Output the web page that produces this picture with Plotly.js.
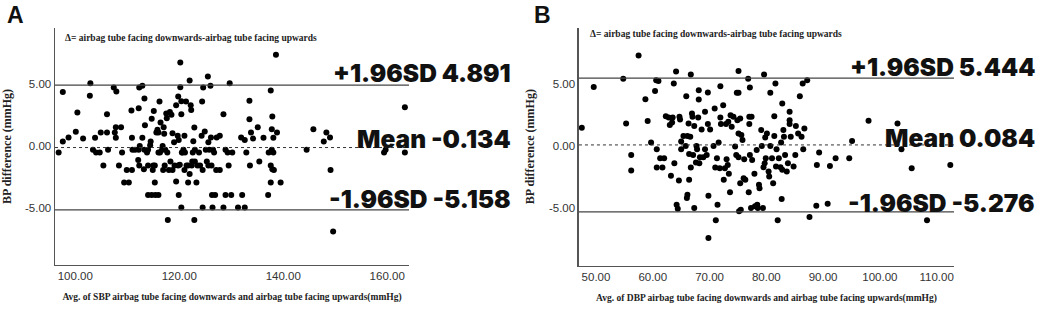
<!DOCTYPE html>
<html>
<head>
<meta charset="utf-8">
<script src="https://cdn.plot.ly/plotly-3.0.1.min.js"></script>
<style>html,body{margin:0;padding:0;background:#fff;}#chart{width:1040px;height:309px;}</style>
</head>
<body>
<div id="chart"></div>
<script>
// Panel A: SBP
const sbpAvg = [96.8,97.6,97.6,98.7,100.1,100.4,101.5,102.9,102.8,103.4,103.8,104.0,104.7,104.9,105.4,106.1,106.1,106.3,107.4,107.6,107.8,107.9,107.8,108.4,108.8,109.0,109.4,109.9,110.3,110.8,110.9,110.9,111.0,112.2,112.3,112.1,112.3,112.2,112.4,112.9,113.3,113.4,113.3,114.0,112.9,113.2,114.0,114.4,114.7,114.5,114.7,114.9,115.1,115.4,115.3,115.6,115.8,116.0,116.0,116.2,116.4,116.7,116.8,116.9,117.1,117.2,117.6,117.7,117.8,118.2,118.3,118.5,118.7,118.7,119.1,119.4,119.4,119.7,119.8,119.9,119.9,120.1,120.2,120.2,120.4,120.4,120.4,120.6,121.0,121.3,121.4,121.7,122.0,122.0,122.2,122.3,122.6,122.7,122.9,122.9,123.0,123.3,123.5,123.8,124.3,124.4,124.5,124.6,124.9,125.1,125.3,125.5,125.6,125.8,126.0,126.1,126.3,126.4,126.7,126.9,127.1,127.2,127.8,127.8,128.5,128.5,128.9,128.9,129.3,129.5,129.7,130.0,130.2,131.3,131.9,132.1,132.6,132.6,132.9,133.5,133.5,133.6,133.8,134.2,135.1,135.4,136.2,137.1,137.2,137.6,137.6,137.6,137.8,137.8,137.9,137.9,138.1,138.1,138.2,138.6,138.8,139.5,144.5,145.8,147.8,148.3,149.0,149.1,149.6,159.4,159.7,163.4,163.4,
116.3,117.3,120.5,121.1,115.3,119.8,121.7,122.4,124.0,125.6,126.2,120.8,123.0,126.5,117.0,116.0,117.5,119.0,114.0,113.8,111.5,115.0,118.0,121.0,124.5,122.5];
const sbpDiff = [-0.54,4.35,0.35,0.67,1.13,2.69,0.59,5.05,4.03,-0.32,0.65,-0.54,-0.54,1.08,-1.59,2.55,1.08,-0.32,4.70,1.08,1.50,4.38,0.65,-1.59,1.50,-0.54,-2.96,-1.94,-2.96,2.85,-1.94,0.65,-0.32,3.04,4.70,-1.13,-1.59,-0.32,0.00,4.84,3.82,1.67,-0.32,-3.95,0.65,-1.88,-1.59,0.05,-3.95,0.35,2.18,-1.94,2.82,-3.95,-2.96,1.08,1.29,-3.95,-0.54,3.58,1.88,-0.32,0.00,-1.94,0.97,-1.59,2.23,-0.54,-5.97,2.74,-1.26,2.50,1.02,-1.94,-1.59,3.28,-2.88,0.81,3.98,-3.95,0.48,-1.53,6.72,4.73,3.60,2.55,-4.97,-0.54,0.81,3.58,-1.59,-2.96,5.27,-2.26,3.28,2.90,-0.54,0.38,-5.97,1.48,-1.26,-2.96,-1.59,-0.54,0.81,3.58,-4.97,4.70,1.16,-0.32,-1.26,5.59,0.30,-0.32,4.84,0.67,-3.95,-4.97,-0.54,-3.95,-1.94,0.67,0.81,-1.94,2.55,-4.97,-0.32,-3.95,-0.54,-1.59,5.05,-3.95,-0.54,-4.97,0.67,-3.95,-4.97,0.48,-0.54,2.15,3.63,-1.59,1.08,0.59,1.50,-1.26,0.65,-3.95,-0.54,4.46,-2.96,-1.59,-0.32,1.34,2.37,-1.88,-0.54,0.65,-1.94,7.34,1.08,-2.96,-0.32,1.34,0.35,1.08,0.67,-1.94,-6.90,-0.54,-0.32,3.12,-0.54,
-0.54,-0.32,-0.54,-0.54,-1.59,-1.59,-1.59,-1.59,-1.59,-1.59,-1.59,-0.32,-0.32,-0.32,1.50,1.08,2.60,0.30,-0.32,-0.54,-0.32,-1.59,-1.94,-1.94,-1.94,-1.26];
const sbpLimits = {upper: 4.891, mean: -0.134, lower: -5.158};

// Panel B: DBP
const dbpAvg = [47.5,49.6,54.8,55.3,56.2,56.2,57.5,58.7,59.1,59.7,60.4,60.7,60.6,61.0,60.7,61.3,61.7,62.0,62.3,62.8,63.0,63.2,63.4,63.5,63.7,63.8,64.1,64.2,64.4,64.6,64.7,64.8,65.0,65.0,65.4,65.8,65.9,66.0,66.1,66.1,66.3,66.4,66.4,66.6,66.7,66.7,66.9,67.0,67.1,67.3,67.3,67.6,67.7,67.8,68.0,68.1,68.1,68.2,68.3,68.6,68.9,69.2,69.2,69.5,69.7,69.7,69.8,69.8,70.1,70.7,70.9,71.0,71.1,71.3,71.4,71.6,71.8,71.9,71.9,72.0,72.4,72.5,72.7,72.9,73.0,73.2,73.3,73.4,73.6,73.7,73.9,74.2,74.5,74.7,74.8,74.9,75.1,75.1,75.1,75.1,75.2,75.4,75.4,75.5,75.6,75.8,76.0,76.1,76.3,76.8,76.9,77.0,77.0,77.1,77.1,77.3,77.4,77.5,77.9,78.0,78.3,78.4,78.5,78.7,78.8,79.1,79.2,79.4,79.5,79.6,79.7,79.8,79.9,80.1,80.4,80.5,80.7,80.7,81.0,81.2,81.4,81.4,81.6,81.7,81.8,82.0,82.2,82.5,82.6,82.7,82.8,82.8,83.0,83.1,83.3,83.6,83.8,84.1,84.1,84.1,84.3,84.8,85.1,85.2,85.6,85.9,86.2,86.4,86.5,86.7,87.2,87.6,88.8,88.9,89.3,90.8,91.2,92.2,94.6,95.1,98.0,103.1,103.8,105.6,108.3,112.4];
const dbpDiff = [1.46,4.73,5.40,1.81,-0.72,-1.97,7.26,3.75,2.00,0.27,4.41,-0.27,5.27,5.21,-1.73,-0.98,-1.73,-0.98,2.39,2.29,1.68,-2.39,1.89,2.29,5.00,-1.38,5.98,-4.71,-5.03,-2.77,2.34,2.13,0.35,-0.27,0.80,0.00,3.99,-4.18,-3.91,0.80,1.81,-0.64,-2.71,0.74,5.74,-1.73,2.61,2.34,-0.72,1.60,-4.97,-1.33,0.00,-0.27,2.29,3.72,4.47,-1.38,-0.90,1.33,-0.90,2.74,-0.27,-0.72,4.28,1.76,-3.99,-7.37,1.33,0.00,3.00,-1.73,-5.96,-0.98,-4.71,0.27,-1.78,2.29,4.79,1.76,3.27,-2.71,-1.78,1.76,-1.06,-1.52,1.94,-2.23,-3.72,2.47,1.54,2.34,-0.05,-0.72,4.26,2.07,6.01,4.26,1.01,-0.90,-5.24,-2.98,2.21,-5.11,0.88,0.48,-2.58,-1.06,-2.71,5.40,-3.72,1.76,2.34,4.68,-0.72,-4.97,2.34,-1.12,-2.23,-4.84,-0.32,-4.71,-4.97,-3.11,-3.38,1.28,0.00,-4.97,-1.70,5.74,-1.38,0.69,-0.98,1.01,-2.05,-2.45,4.26,0.00,-0.98,-2.98,2.39,0.80,5.00,-1.65,-0.27,-5.96,-0.98,-1.70,0.27,-4.26,3.40,-1.91,1.28,0.74,-0.72,-2.05,-1.38,2.74,1.76,2.07,0.74,-1.65,-0.72,1.60,1.01,3.99,0.74,5.00,-0.27,1.41,5.27,-5.69,-4.79,-1.52,-0.53,-4.63,-1.60,-0.98,-0.98,0.40,2.02,1.81,-0.27,-1.78,-5.96,-1.52];
const dbpLimits = {upper: 5.444, mean: 0.084, lower: -5.276};

const panelLabels = ["A", "B"];
const noteText = "Δ= airbag tube facing downwards-airbag tube facing upwards";
const xTitles = ["Avg. of SBP airbag tube facing downwards and airbag tube facing upwards(mmHg)",
                 "Avg. of DBP airbag tube facing downwards and airbag tube facing upwards(mmHg)"];
const yTitle = "BP difference (mmHg)";
const sbpTicks = [100, 120, 140, 160];
const dbpTicks = [50, 60, 70, 80, 90, 100, 110];
const yTicks = [-5, 0, 5];

const serif = {family: "Liberation Serif, Times New Roman, serif", size: 9.5, color: "#222", weight: 700};
const big = {family: "Inter, Roboto, sans-serif", size: 24.5, color: "#111", weight: 900};
const tickFont = {family: "Liberation Sans, Arial, sans-serif", size: 11.5, color: "#333"};

function marker() { return {color: "#000", size: 6, line: {width: 0}}; }

const traces = [
  {type: "scatter", mode: "markers", x: sbpAvg, y: sbpDiff, xaxis: "x", yaxis: "y", marker: marker(), hoverinfo: "skip"},
  {type: "scatter", mode: "markers", x: dbpAvg, y: dbpDiff, xaxis: "x2", yaxis: "y2", marker: marker(), hoverinfo: "skip"}
];

function xa(domain, range, ticks, title) {
  return {domain, range, tickvals: ticks, ticktext: ticks.map(v => v.toFixed(2)), showgrid: false, zeroline: false,
    showline: true, linecolor: "#555", linewidth: 1.5, ticks: "", tickfont: tickFont,
    title: {text: title, font: serif, standoff: 12}};
}
function ya(domain, anchor) {
  return {domain, range: [-9.6, 9.5], anchor, tickvals: yTicks, ticktext: yTicks.map(v => v.toFixed(2)), showgrid: false, zeroline: false,
    showline: true, linecolor: "#555", linewidth: 1.5, ticks: "", tickfont: tickFont,
    title: {text: yTitle, font: Object.assign({}, serif, {size: 12}), standoff: 11}};
}

function limitShapes(xr, yr, lim) {
  return [
    {type: "line", xref: xr + " domain", yref: yr, x0: 0, x1: 1, y0: lim.upper, y1: lim.upper, line: {color: "#444", width: 1.2}},
    {type: "line", xref: xr + " domain", yref: yr, x0: 0, x1: 1, y0: lim.mean, y1: lim.mean, line: {color: "#333", width: 1, dash: "dot"}},
    {type: "line", xref: xr + " domain", yref: yr, x0: 0, x1: 1, y0: lim.lower, y1: lim.lower, line: {color: "#444", width: 1.2}}
  ];
}

function limitNotes(yr, lim, right, offs) {
  const fmt = v => (v < 0 ? "-" + Math.abs(v).toFixed(3) : v.toFixed(3));
  return [
    {xref: "paper", yref: yr, x: right, y: lim.upper + offs[0], xanchor: "right", yanchor: "middle", showarrow: false,
     text: "+1.96SD " + fmt(lim.upper), font: big},
    {xref: "paper", yref: yr, x: right, y: lim.mean + offs[1], xanchor: "right", yanchor: "middle", showarrow: false,
     text: "Mean " + fmt(lim.mean), font: big},
    {xref: "paper", yref: yr, x: right, y: lim.lower + offs[2], xanchor: "right", yanchor: "middle", showarrow: false,
     text: "-1.96SD " + fmt(lim.lower), font: big}
  ];
}

const labelFont = {family: "Liberation Sans, Arial, sans-serif", size: 23, color: "#111", weight: 700};

const layout = {
  width: 1040, height: 309, margin: {l: 0, r: 0, t: 0, b: 0},
  paper_bgcolor: "#fff", plot_bgcolor: "#fff", showlegend: false,
  xaxis: Object.assign(xa([0.0529, 0.3933], [96.1, 164.2], sbpTicks, xTitles[0]), {anchor: "y"}),
  yaxis: ya([0.1424, 0.9094], "x"),
  xaxis2: Object.assign(xa([0.5567, 0.9173], [47.0, 113.05], dbpTicks, xTitles[1]), {anchor: "y2"}),
  yaxis2: ya([0.1401, 0.911], "x2"),
  shapes: [].concat(limitShapes("x", "y", sbpLimits), limitShapes("x2", "y2", dbpLimits)),
  annotations: [].concat(
    limitNotes("y", sbpLimits, 0.4933, [1.0, 0.65, 0.9]),
    limitNotes("y2", dbpLimits, 0.9971, [0.9, 0.55, 0.7]),
    [
      {xref: "paper", yref: "paper", x: 0.0606, y: 0.877, xanchor: "left", yanchor: "middle", showarrow: false, text: noteText, font: serif},
      {xref: "paper", yref: "paper", x: 0.5654, y: 0.890, xanchor: "left", yanchor: "middle", showarrow: false, text: noteText, font: serif},
      {xref: "paper", yref: "paper", x: 0.005, y: 0.950, xanchor: "left", yanchor: "middle", showarrow: false, text: panelLabels[0], font: labelFont},
      {xref: "paper", yref: "paper", x: 0.512, y: 0.950, xanchor: "left", yanchor: "middle", showarrow: false, text: panelLabels[1], font: labelFont}
    ])
};

Plotly.newPlot("chart", traces, layout, {staticPlot: true, displayModeBar: false});
</script>
</body>
</html>
